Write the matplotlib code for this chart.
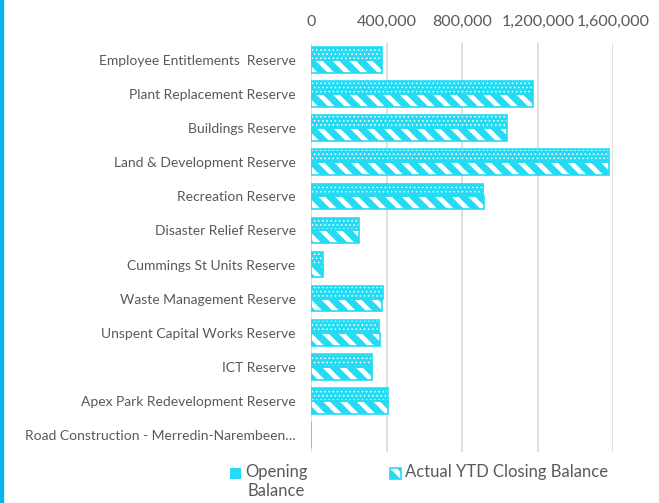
import numpy as np
import matplotlib.pyplot as plt
from matplotlib.patches import Rectangle

# Reserve balances
categories = [
    "Employee Entitlements  Reserve",
    "Plant Replacement Reserve",
    "Buildings Reserve",
    "Land & Development Reserve",
    "Recreation Reserve",
    "Disaster Relief Reserve",
    "Cummings St Units Reserve",
    "Waste Management Reserve",
    "Unspent Capital Works Reserve",
    "ICT Reserve",
    "Apex Park Redevelopment Reserve",
    "Road Construction - Merredin-Narembeen…",
]
opening = [374000, 1173000, 1038000, 1578000, 911000, 252000, 62000,
           379000, 361000, 321000, 406000, 0]
closing = [374000, 1173000, 1038000, 1578000, 914000, 252000, 63000,
           375000, 363000, 321000, 409000, 0]
xticks = [0, 400000, 800000, 1200000, 1600000]
series = ["Opening\nBalance", "Actual YTD Closing Balance"]

cyan = "#25DBF3"
grey = "#595959"
W, H = 659, 503

plt.rcParams['font.family'] = ['Lato', 'DejaVu Sans']
plt.rcParams['font.size'] = 10

fig = plt.figure(figsize=(W / 100, H / 100), dpi=100)
ax = fig.add_axes([311 / W, 1 - 452 / H, (613.3 - 311) / W, 409 / H])

y = np.arange(len(categories))
h = 0.376
dot_style = dict(color=cyan, edgecolor="white", hatch="....", linewidth=0)
stripe_style = dict(facecolor="white", edgecolor=cyan, hatch="\\\\", linewidth=1.2)


def set_hlw(patches, lw):
    for p in patches:
        try:
            p.set_hatch_linewidth(lw)
        except AttributeError:
            pass


# opening balance: cyan with white dots
plt.rcParams['hatch.linewidth'] = 0.6
b1 = ax.barh(y - h / 2, opening, height=h, zorder=2, **dot_style)
ax.barh(y - h / 2, opening, height=h, fill=False, edgecolor=cyan,
        linewidth=1.2, zorder=3)
set_hlw(b1, 0.6)

# closing balance: white with wide cyan diagonal stripes
plt.rcParams['hatch.linewidth'] = 5
b2 = ax.barh(y + h / 2, closing, height=h, zorder=2, **stripe_style)
set_hlw(b2, 5)

ax.set_ylim(len(categories) - 0.5, -0.5)
ax.set_xlim(0, 1600000)
ax.set_yticks(y)
ax.set_yticklabels(categories, color=grey)
ax.set_xticks(xticks)
ax.set_xticklabels([f"{v:,}" for v in xticks], color=grey)
ax.xaxis.tick_top()
ax.tick_params(length=0)
ax.tick_params(axis='x', pad=10, labelsize=11.5)
ax.tick_params(axis='y', pad=11)
ax.grid(axis='x', color="#D9D9D9", linewidth=1.2, zorder=0)
ax.set_axisbelow(True)
for s in ax.spines.values():
    s.set_visible(False)

# legend, drawn by hand so the marker sits beside the first text line
legend_x = [230, 390]
for lx, lab, style, lw in zip(legend_x, series, [dot_style, stripe_style], [0.6, 5]):
    plt.rcParams['hatch.linewidth'] = lw
    r = Rectangle((lx / W, 1 - 479 / H), 11 / W, 11 / H,
                  transform=fig.transFigure, **style)
    set_hlw([r], lw)
    fig.patches.append(r)
    fig.text((lx + 15) / W, 1 - 464 / H, lab, color=grey, fontsize=12,
             va="top", ha="left", multialignment="center",
             linespacing=1.2)

# blue border on left edge
fig.patches.append(Rectangle((0, 0), 3 / W, 1, transform=fig.transFigure,
                             color="#0AB2EE", zorder=10))

fig.savefig("out.png", dpi=100)
